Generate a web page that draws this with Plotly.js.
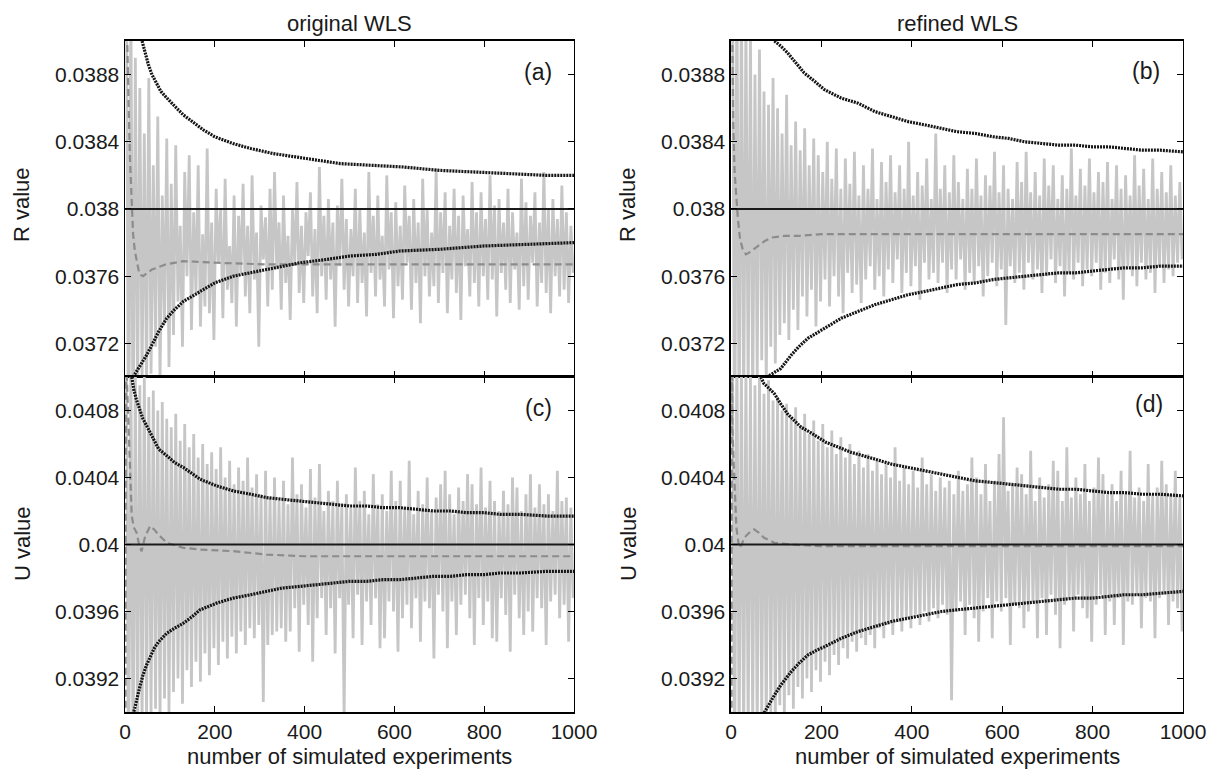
<!DOCTYPE html>
<html>
<head>
<meta charset="utf-8">
<script src="https://cdn.plot.ly/plotly-3.0.1.min.js"></script>
<style>html,body{margin:0;padding:0;background:#fff;}#chart{width:1220px;height:773px;}</style>
</head>
<body>
<div id="chart"></div>
<script>
// ---------- tick labels ----------
const xTickVals = [0, 200, 400, 600, 800, 1000];
const xTickText = ['0', '200', '400', '600', '800', '1000'];
const rTickVals = [0.0372, 0.0376, 0.038, 0.0384, 0.0388];
const rTickText = ['0.0372', '0.0376', '0.038', '0.0384', '0.0388'];
const uTickVals = [0.0392, 0.0396, 0.04, 0.0404, 0.0408];
const uTickText = ['0.0392', '0.0396', '0.04', '0.0404', '0.0408'];
const columnTitles = ['original WLS', 'refined WLS'];
const panelLabels = ['(a)', '(b)', '(c)', '(d)'];

// ---------- true values ----------
const trueX = [0, 1000];
const trueR = [0.038, 0.038];
const trueU = [0.04, 0.04];

// ---------- individual estimates (every 5th simulated experiment, starting at 3) ----------
const noiseStart = 3, noiseStep = 5;
const noiseA = [0.0396, 0.0362, 0.0393, 0.0365, 0.03890, 0.03685, 0.03872, 0.03698, 0.03845, 0.03692,
 0.03878, 0.03702, 0.03826, 0.03718, 0.03855, 0.03698, 0.03808, 0.03732, 0.03842, 0.03706,
 0.03815, 0.03725, 0.03838, 0.03745, 0.03790, 0.03718, 0.03822, 0.03760, 0.03832, 0.03728,
 0.03798, 0.03750, 0.03826, 0.03730, 0.03785, 0.03742, 0.03836, 0.03738, 0.03792, 0.03722,
 0.03812, 0.03768, 0.03800, 0.03735, 0.03818, 0.03752, 0.03778, 0.03744, 0.03808, 0.03730,
 0.03796, 0.03762, 0.03815, 0.03748, 0.03790, 0.03738, 0.03820, 0.03758, 0.03786, 0.03718,
 0.03802, 0.03770, 0.03795, 0.03742, 0.03812, 0.03752, 0.03822, 0.03764, 0.03792, 0.03740,
 0.03808, 0.03756, 0.03784, 0.03734, 0.03800, 0.03768, 0.03816, 0.03750, 0.03790, 0.03744,
 0.03798, 0.03772, 0.03810, 0.03748, 0.03788, 0.03738, 0.03825, 0.03760, 0.03796, 0.03746,
 0.03806, 0.03758, 0.03792, 0.03730, 0.03802, 0.03766, 0.03818, 0.03752, 0.03794, 0.03742,
 0.03788, 0.03760, 0.03812, 0.03744, 0.03800, 0.03756, 0.03786, 0.03736, 0.03822, 0.03762,
 0.03796, 0.03748, 0.03808, 0.03758, 0.03784, 0.03742, 0.03820, 0.03764, 0.03798, 0.03735,
 0.03804, 0.03754, 0.03790, 0.03746, 0.03814, 0.03768, 0.03796, 0.03740, 0.03806, 0.03756,
 0.03792, 0.03732, 0.03818, 0.03760, 0.03800, 0.03748, 0.03786, 0.03754, 0.03824, 0.03744,
 0.03798, 0.03762, 0.03810, 0.03738, 0.03790, 0.03758, 0.03812, 0.03750, 0.03796, 0.03734,
 0.03808, 0.03766, 0.03788, 0.03748, 0.03816, 0.03756, 0.03798, 0.03742, 0.03810, 0.03760,
 0.03794, 0.03746, 0.03820, 0.03758, 0.03802, 0.03736, 0.03806, 0.03762, 0.03792, 0.03752,
 0.03812, 0.03744, 0.03798, 0.03764, 0.03786, 0.03740, 0.03818, 0.03754, 0.03804, 0.03746,
 0.03796, 0.03768, 0.03810, 0.03742, 0.03792, 0.03756, 0.03822, 0.03750, 0.03800, 0.03738,
 0.03806, 0.03760, 0.03794, 0.03748, 0.03814, 0.03752, 0.03798, 0.03744, 0.03790, 0.03762];
const noiseB = [0.0397, 0.0363, 0.0394, 0.0366, 0.03935, 0.03672, 0.03912, 0.03690, 0.03905, 0.03682,
 0.03880, 0.03700, 0.03895, 0.03710, 0.03870, 0.03695, 0.03862, 0.03718, 0.03878, 0.03708,
 0.03860, 0.03725, 0.03845, 0.03732, 0.03868, 0.03722, 0.03838, 0.03740, 0.03852, 0.03728,
 0.03835, 0.03748, 0.03848, 0.03736, 0.03826, 0.03752, 0.03842, 0.03730, 0.03832, 0.03745,
 0.03822, 0.03758, 0.03840, 0.03742, 0.03818, 0.03760, 0.03836, 0.03748, 0.03812, 0.03738,
 0.03830, 0.03762, 0.03815, 0.03750, 0.03834, 0.03755, 0.03808, 0.03744, 0.03826, 0.03758,
 0.03812, 0.03766, 0.03836, 0.03752, 0.03806, 0.03760, 0.03828, 0.03748, 0.03816, 0.03764,
 0.03832, 0.03756, 0.03810, 0.03770, 0.03826, 0.03750, 0.03812, 0.03762, 0.03840, 0.03754,
 0.03808, 0.03766, 0.03822, 0.03746, 0.03814, 0.03768, 0.03830, 0.03758, 0.03806, 0.03762,
 0.03845, 0.03756, 0.03812, 0.03768, 0.03826, 0.03750, 0.03810, 0.03764, 0.03832, 0.03758,
 0.03816, 0.03770, 0.03806, 0.03752, 0.03824, 0.03762, 0.03812, 0.03756, 0.03830, 0.03766,
 0.03808, 0.03748, 0.03820, 0.03760, 0.03814, 0.03768, 0.03834, 0.03754, 0.03810, 0.03764,
 0.03826, 0.03731, 0.03812, 0.03766, 0.03806, 0.03756, 0.03828, 0.03762, 0.03816, 0.03752,
 0.03834, 0.03768, 0.03810, 0.03758, 0.03822, 0.03764, 0.03808, 0.03750, 0.03830, 0.03760,
 0.03814, 0.03770, 0.03826, 0.03756, 0.03806, 0.03766, 0.03820, 0.03748, 0.03812, 0.03762,
 0.03836, 0.03758, 0.03808, 0.03768, 0.03824, 0.03754, 0.03814, 0.03764, 0.03830, 0.03760,
 0.03810, 0.03768, 0.03822, 0.03752, 0.03816, 0.03762, 0.03828, 0.03756, 0.03806, 0.03770,
 0.03826, 0.03758, 0.03812, 0.03746, 0.03820, 0.03766, 0.03808, 0.03760, 0.03832, 0.03754,
 0.03814, 0.03768, 0.03824, 0.03758, 0.03806, 0.03762, 0.03830, 0.03750, 0.03812, 0.03766,
 0.03822, 0.03756, 0.03810, 0.03764, 0.03826, 0.03760, 0.03808, 0.03768, 0.03816, 0.03770];
const noiseC = [0.0412, 0.0385, 0.0411, 0.0387, 0.04105, 0.03885, 0.04095, 0.03890, 0.04100, 0.03895,
 0.04088, 0.03898, 0.04092, 0.03902, 0.04080, 0.03895, 0.04085, 0.03908, 0.04075, 0.03900,
 0.04070, 0.03912, 0.04078, 0.03920, 0.04062, 0.03905, 0.04072, 0.03925, 0.04058, 0.03915,
 0.04066, 0.03930, 0.04052, 0.03918, 0.04060, 0.03935, 0.04048, 0.03922, 0.04055, 0.03938,
 0.04045, 0.03928, 0.04058, 0.03942, 0.04040, 0.03932, 0.04050, 0.03945, 0.04036, 0.03935,
 0.04046, 0.03948, 0.04038, 0.03940, 0.04052, 0.03950, 0.04034, 0.03944, 0.04042, 0.03952,
 0.04030, 0.03906, 0.04044, 0.03940, 0.04028, 0.03946, 0.04040, 0.03948, 0.04026, 0.03950,
 0.04038, 0.03942, 0.04024, 0.03948, 0.04052, 0.03962, 0.04030, 0.03936, 0.04036, 0.03964,
 0.04022, 0.03952, 0.04045, 0.03930, 0.04028, 0.03956, 0.04048, 0.03968, 0.04020, 0.03946,
 0.04032, 0.03962, 0.04026, 0.03935, 0.04038, 0.03968, 0.04024, 0.03898, 0.04030, 0.03964,
 0.04022, 0.03944, 0.04046, 0.03970, 0.04026, 0.03940, 0.04032, 0.03966, 0.04018, 0.03952,
 0.04042, 0.03968, 0.04024, 0.03938, 0.04030, 0.03944, 0.04020, 0.03966, 0.04044, 0.03960,
 0.04026, 0.03936, 0.04038, 0.03956, 0.04022, 0.03964, 0.04050, 0.03950, 0.04018, 0.03968,
 0.04032, 0.03942, 0.04024, 0.03966, 0.04040, 0.03962, 0.04020, 0.03932, 0.04028, 0.03970,
 0.04036, 0.03960, 0.04044, 0.03938, 0.04030, 0.03966, 0.04018, 0.03946, 0.04034, 0.03964,
 0.04026, 0.03970, 0.04042, 0.03956, 0.04036, 0.03940, 0.04024, 0.03968, 0.04046, 0.03952,
 0.04022, 0.03966, 0.04038, 0.03944, 0.04026, 0.03942, 0.04020, 0.03968, 0.04032, 0.03958,
 0.04024, 0.03936, 0.04040, 0.03970, 0.04034, 0.03956, 0.04020, 0.03946, 0.04030, 0.03960,
 0.04042, 0.03948, 0.04022, 0.03968, 0.04036, 0.03962, 0.04024, 0.03940, 0.04030, 0.03966,
 0.04020, 0.03970, 0.04044, 0.03956, 0.04026, 0.03964, 0.04028, 0.03942, 0.04022, 0.03968];
const noiseD = [0.0413, 0.0386, 0.0412, 0.0388, 0.04110, 0.03880, 0.04105, 0.03888, 0.04100, 0.03892,
 0.04095, 0.03885, 0.04102, 0.03896, 0.04090, 0.03890, 0.04098, 0.03900, 0.04086, 0.03895,
 0.04088, 0.03904, 0.04080, 0.03898, 0.04084, 0.03910, 0.04076, 0.03902, 0.04082, 0.03915,
 0.04070, 0.03908, 0.04078, 0.03920, 0.04066, 0.03912, 0.04074, 0.03925, 0.04062, 0.03918,
 0.04072, 0.03930, 0.04058, 0.03922, 0.04068, 0.03934, 0.04054, 0.03928, 0.04064, 0.03938,
 0.04052, 0.03932, 0.04060, 0.03942, 0.04048, 0.03936, 0.04056, 0.03944, 0.04046, 0.03940,
 0.04054, 0.03946, 0.04044, 0.03938, 0.04050, 0.03950, 0.04042, 0.03944, 0.04048, 0.03952,
 0.04040, 0.03946, 0.04058, 0.03954, 0.04038, 0.03948, 0.04046, 0.03956, 0.04036, 0.03950,
 0.04044, 0.03958, 0.04034, 0.03952, 0.04052, 0.03960, 0.04036, 0.03954, 0.04042, 0.03962,
 0.04032, 0.03956, 0.04040, 0.03964, 0.04034, 0.03958, 0.04038, 0.03907, 0.04030, 0.03960,
 0.04044, 0.03966, 0.04032, 0.03946, 0.04036, 0.03964, 0.04052, 0.03956, 0.04040, 0.03942,
 0.04030, 0.03960, 0.04048, 0.03968, 0.04026, 0.03944, 0.04038, 0.03966, 0.04054, 0.03960,
 0.04076, 0.03968, 0.04032, 0.03940, 0.04036, 0.03964, 0.04046, 0.03962, 0.04042, 0.03950,
 0.04030, 0.03960, 0.04056, 0.03966, 0.04026, 0.03944, 0.04040, 0.03968, 0.04028, 0.03946,
 0.04036, 0.03970, 0.04050, 0.03958, 0.04044, 0.03938, 0.04026, 0.03964, 0.04058, 0.03968,
 0.04028, 0.03948, 0.04040, 0.03970, 0.04030, 0.03962, 0.04048, 0.03956, 0.04026, 0.03942,
 0.04034, 0.03964, 0.04052, 0.03970, 0.04042, 0.03946, 0.04030, 0.03966, 0.04036, 0.03952,
 0.04026, 0.03968, 0.04044, 0.03940, 0.04030, 0.03966, 0.04056, 0.03964, 0.04028, 0.03970,
 0.04034, 0.03950, 0.04026, 0.03968, 0.04048, 0.03966, 0.04030, 0.03944, 0.04034, 0.03968,
 0.04050, 0.03970, 0.04036, 0.03952, 0.04030, 0.03966, 0.04044, 0.03962, 0.04028, 0.03948];

// ---------- running means (gray dashed) ----------
const meanAX = [1, 3, 5, 8, 11, 15, 18, 22, 26, 30, 33, 40, 50, 60, 71, 90, 130, 204, 315, 450, 600, 800, 1000];
const meanAY = [0.03950, 0.03920, 0.03895, 0.03862, 0.03830, 0.03800, 0.03785, 0.03775, 0.03769, 0.03764, 0.03761, 0.03760, 0.03762, 0.03764, 0.03765, 0.03767, 0.03769, 0.03768, 0.03767, 0.03767, 0.03767, 0.03767, 0.03767];
const meanBX = [1, 3, 5, 8, 11, 15, 20, 26, 33, 40, 50, 59, 75, 90, 118, 150, 200, 300, 400, 600, 800, 1000];
const meanBY = [0.03950, 0.03900, 0.03850, 0.03822, 0.03810, 0.03795, 0.03782, 0.03776, 0.03773, 0.03774, 0.03776, 0.03778, 0.03781, 0.03783, 0.03784, 0.03784, 0.03785, 0.03785, 0.03785, 0.03785, 0.03785, 0.03785];
const meanCX = [1, 2, 3, 6, 10, 15, 20, 26, 32, 37, 45, 56, 65, 74, 93, 130, 167, 241, 315, 400, 600, 800, 1000];
const meanCY = [0.03850, 0.04150, 0.04110, 0.04085, 0.04050, 0.04017, 0.04010, 0.04007, 0.03999, 0.03996, 0.04005, 0.04011, 0.04009, 0.04006, 0.04001, 0.03998, 0.03997, 0.03996, 0.03994, 0.03993, 0.03993, 0.03993, 0.03993];
const meanDX = [1, 2, 3, 5, 8, 12, 18, 24, 29, 40, 51, 62, 73, 96, 130, 200, 300, 500, 700, 1000];
const meanDY = [0.03850, 0.04150, 0.04070, 0.04055, 0.04035, 0.04010, 0.03998, 0.04000, 0.04004, 0.04007, 0.04009, 0.04007, 0.04004, 0.04001, 0.04000, 0.03999, 0.03999, 0.03999, 0.03999, 0.03999];

// ---------- bounds (black dotted) ----------
const upAX = [38, 45, 52, 60, 70, 80, 90, 100, 115, 130, 150, 175, 200, 240, 280, 330, 380, 430, 480, 550, 620, 700, 780, 860, 940, 1000];
const upAY = [0.03900, 0.03893, 0.03886, 0.03880, 0.03875, 0.03870, 0.03867, 0.03864, 0.03860, 0.03856, 0.03852, 0.03847, 0.03843, 0.03839, 0.03836, 0.03833, 0.03831, 0.03829, 0.03827, 0.03826, 0.03825, 0.03823, 0.03822, 0.03821, 0.03820, 0.03820];
const loAX = [18, 25, 32, 40, 48, 56, 65, 75, 93, 110, 130, 167, 200, 241, 280, 316, 350, 390, 450, 500, 560, 612, 700, 800, 900, 1000];
const loAY = [0.03700, 0.03703, 0.03706, 0.03709, 0.03713, 0.03717, 0.03722, 0.03727, 0.03735, 0.03740, 0.03745, 0.03751, 0.03756, 0.03760, 0.03762, 0.03764, 0.03766, 0.03768, 0.03770, 0.03772, 0.03773, 0.03775, 0.03776, 0.03778, 0.03779, 0.03780];
const upBX = [96, 110, 125, 140, 162, 185, 207, 244, 281, 318, 355, 392, 430, 466, 500, 540, 580, 614, 650, 688, 725, 762, 800, 836, 870, 910, 950, 1000];
const upBY = [0.03900, 0.03897, 0.03893, 0.03888, 0.03881, 0.03876, 0.03871, 0.03866, 0.03863, 0.03858, 0.03855, 0.03852, 0.03850, 0.03848, 0.03846, 0.03845, 0.03843, 0.03842, 0.03840, 0.03839, 0.03838, 0.03838, 0.03837, 0.03837, 0.03836, 0.03835, 0.03835, 0.03834];
const loBX = [73, 90, 110, 133, 150, 170, 190, 207, 244, 281, 318, 355, 392, 430, 466, 500, 540, 580, 614, 650, 688, 725, 762, 800, 836, 870, 910, 950, 1000];
const loBY = [0.03699, 0.03702, 0.03705, 0.03713, 0.03718, 0.03723, 0.03726, 0.03729, 0.03735, 0.03739, 0.03743, 0.03746, 0.03749, 0.03751, 0.03753, 0.03755, 0.03756, 0.03758, 0.03759, 0.03760, 0.03761, 0.03762, 0.03762, 0.03763, 0.03764, 0.03765, 0.03765, 0.03766, 0.03766];
const upCX = [15, 20, 26, 33, 40, 48, 56, 65, 75, 93, 110, 130, 150, 167, 204, 241, 280, 315, 350, 390, 430, 464, 500, 538, 575, 612, 650, 687, 725, 761, 800, 835, 880, 939, 1000];
const upCY = [0.04100, 0.04092, 0.04086, 0.04080, 0.04075, 0.04071, 0.04067, 0.04062, 0.04057, 0.04053, 0.04049, 0.04046, 0.04042, 0.04039, 0.04035, 0.04032, 0.04030, 0.04028, 0.04027, 0.04026, 0.04025, 0.04024, 0.04023, 0.04023, 0.04022, 0.04022, 0.04021, 0.04020, 0.04020, 0.04019, 0.04019, 0.04018, 0.04018, 0.04017, 0.04017];
const loCX = [15, 19, 25, 33, 40, 48, 56, 65, 75, 93, 110, 130, 150, 167, 204, 241, 280, 315, 350, 390, 430, 464, 500, 538, 575, 612, 650, 687, 725, 761, 800, 835, 880, 939, 1000];
const loCY = [0.03895, 0.03899, 0.03906, 0.03915, 0.03922, 0.03928, 0.03933, 0.03938, 0.03942, 0.03947, 0.03950, 0.03953, 0.03957, 0.03961, 0.03965, 0.03968, 0.03970, 0.03972, 0.03974, 0.03975, 0.03976, 0.03977, 0.03978, 0.03978, 0.03979, 0.03979, 0.03980, 0.03981, 0.03981, 0.03982, 0.03982, 0.03983, 0.03983, 0.03984, 0.03984];
const upDX = [66, 73, 85, 96, 110, 125, 140, 155, 175, 192, 210, 229, 266, 318, 355, 392, 430, 466, 500, 540, 580, 614, 650, 688, 725, 762, 800, 836, 870, 910, 950, 1000];
const upDY = [0.04100, 0.04096, 0.04093, 0.04090, 0.04084, 0.04078, 0.04074, 0.04070, 0.04067, 0.04064, 0.04061, 0.04059, 0.04055, 0.04051, 0.04048, 0.04046, 0.04044, 0.04042, 0.04040, 0.04038, 0.04037, 0.04036, 0.04035, 0.04034, 0.04033, 0.04033, 0.04032, 0.04031, 0.04031, 0.04030, 0.04030, 0.04029];
const loDX = [70, 80, 96, 110, 133, 150, 170, 190, 207, 244, 281, 318, 355, 392, 430, 466, 500, 540, 580, 614, 650, 688, 725, 762, 800, 836, 870, 910, 950, 1000];
const loDY = [0.03898, 0.03903, 0.03910, 0.03916, 0.03924, 0.03929, 0.03934, 0.03937, 0.03939, 0.03944, 0.03948, 0.03951, 0.03954, 0.03956, 0.03958, 0.03960, 0.03961, 0.03962, 0.03963, 0.03964, 0.03965, 0.03966, 0.03967, 0.03968, 0.03968, 0.03969, 0.03970, 0.03970, 0.03971, 0.03972];

// ---------- build ----------
const FONT = '"Liberation Sans", Arial, Helvetica, sans-serif';
const noiseX = noiseA.map((_, i) => noiseStart + noiseStep * i);

const panels = [
  {xa: 'x',  ya: 'y',  noise: noiseA, mx: meanAX, my: meanAY, ux: upAX, uy: upAY, lx: loAX, ly: loAY, tv: trueR},
  {xa: 'x2', ya: 'y2', noise: noiseB, mx: meanBX, my: meanBY, ux: upBX, uy: upBY, lx: loBX, ly: loBY, tv: trueR},
  {xa: 'x3', ya: 'y3', noise: noiseC, mx: meanCX, my: meanCY, ux: upCX, uy: upCY, lx: loCX, ly: loCY, tv: trueU},
  {xa: 'x4', ya: 'y4', noise: noiseD, mx: meanDX, my: meanDY, ux: upDX, uy: upDY, lx: loDX, ly: loDY, tv: trueU}
];

const traces = [];
panels.forEach(p => {
  traces.push({x: noiseX, y: p.noise, xaxis: p.xa, yaxis: p.ya, mode: 'lines', line: {color: '#c6c6c6', width: 2.8}, hoverinfo: 'skip'});
  traces.push({x: p.mx, y: p.my, xaxis: p.xa, yaxis: p.ya, mode: 'lines', line: {color: '#8c8c8c', width: 2.2, dash: '7px,4px'}, hoverinfo: 'skip'});
  traces.push({x: trueX, y: p.tv, xaxis: p.xa, yaxis: p.ya, mode: 'lines', line: {color: '#1a1a1a', width: 2.2}, hoverinfo: 'skip'});
  traces.push({x: p.ux, y: p.uy, xaxis: p.xa, yaxis: p.ya, mode: 'lines', line: {color: '#151515', width: 3.2, dash: '2px,1px'}, hoverinfo: 'skip'});
  traces.push({x: p.lx, y: p.ly, xaxis: p.xa, yaxis: p.ya, mode: 'lines', line: {color: '#151515', width: 3.2, dash: '2px,1px'}, hoverinfo: 'skip'});
});

const LEFT = [0.10246, 0.47049], RIGHT = [0.59918, 0.96967];
const TOP = [0.51229, 0.94696], BOTTOM = [0.07891, 0.51229];

function xAxis(domain, anchor, labels) {
  return {domain: domain, anchor: anchor, range: [0, 1000], tickvals: xTickVals, ticktext: xTickText,
    showticklabels: labels, ticks: 'inside', ticklen: 6, tickwidth: 1, tickcolor: '#000',
    showline: true, linecolor: '#000', linewidth: 1.5, mirror: 'ticks', showgrid: false, zeroline: false,
    tickfont: {family: FONT, size: 21, color: '#1a1a1a'}, fixedrange: true};
}
function yAxis(domain, anchor, range, vals, texts) {
  return {domain: domain, anchor: anchor, range: range, tickvals: vals, ticktext: texts,
    ticks: 'inside', ticklen: 6, tickwidth: 1, tickcolor: '#000',
    showline: true, linecolor: '#000', linewidth: 1.5, mirror: 'ticks', showgrid: false, zeroline: false,
    tickfont: {family: FONT, size: 21, color: '#1a1a1a'}, fixedrange: true};
}

const ann = [];
function addText(text, x, y, size, angle) {
  ann.push({text: text, x: x, y: y, xref: 'paper', yref: 'paper', xanchor: 'center', yanchor: 'middle',
    showarrow: false, textangle: angle || 0, font: {family: FONT, size: size, color: '#1a1a1a'}});
}
addText(columnTitles[0], 349.5 / 1220, 1 - 24 / 773, 22);
addText(columnTitles[1], 957 / 1220, 1 - 24 / 773, 22);
addText('R value', 22 / 1220, 1 - 205 / 773, 22, -90);
addText('U value', 22 / 1220, 1 - 544 / 773, 22, -90);
addText('R value', 628 / 1220, 1 - 205 / 773, 22, -90);
addText('U value', 628 / 1220, 1 - 544 / 773, 22, -90);
addText('number of simulated experiments', 349.5 / 1220, 1 - 756 / 773, 22);
addText('number of simulated experiments', 957 / 1220, 1 - 756 / 773, 22);
const labelPos = [[538, 72], [1146, 71], [538, 408], [1149, 404]];
panelLabels.forEach((t, i) => addText(t, labelPos[i][0] / 1220, 1 - labelPos[i][1] / 773, 23));

const layout = {
  width: 1220, height: 773, margin: {l: 0, r: 0, t: 0, b: 0},
  paper_bgcolor: '#fff', plot_bgcolor: '#fff', showlegend: false,
  font: {family: FONT, color: '#1a1a1a'},
  xaxis: xAxis(LEFT, 'y', false),
  yaxis: yAxis(TOP, 'x', [0.037, 0.039], rTickVals, rTickText),
  xaxis2: xAxis(RIGHT, 'y2', false),
  yaxis2: yAxis(TOP, 'x2', [0.037, 0.039], rTickVals, rTickText),
  xaxis3: xAxis(LEFT, 'y3', true),
  yaxis3: yAxis(BOTTOM, 'x3', [0.039, 0.041], uTickVals, uTickText),
  xaxis4: xAxis(RIGHT, 'y4', true),
  yaxis4: yAxis(BOTTOM, 'x4', [0.039, 0.041], uTickVals, uTickText),
  annotations: ann
};

Plotly.newPlot('chart', traces, layout, {displayModeBar: false, staticPlot: true});
</script>
</body>
</html>
